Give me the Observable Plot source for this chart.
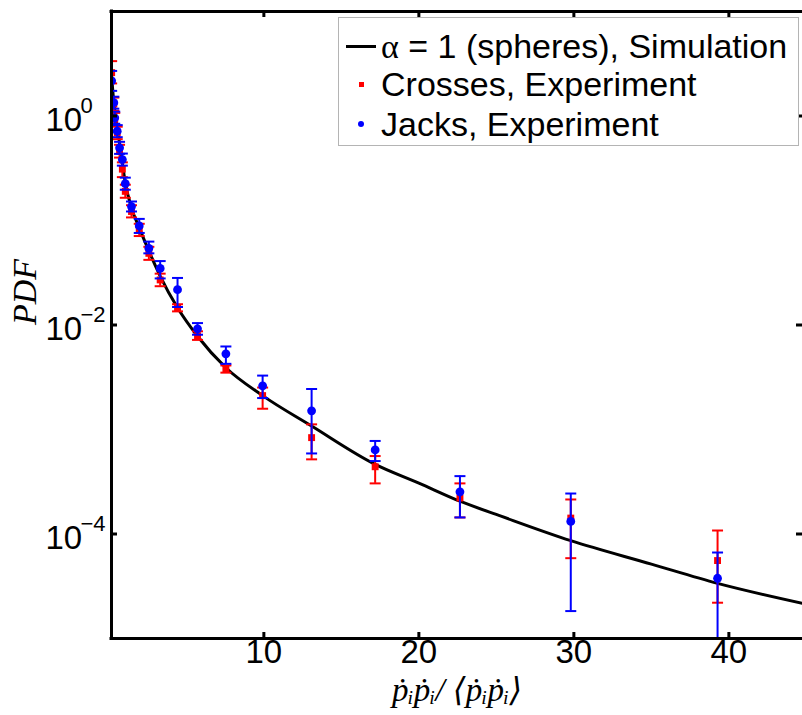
<!DOCTYPE html>
<html><head><meta charset="utf-8">
<script src="https://cdn.jsdelivr.net/npm/d3@7"></script>
<script src="https://cdn.jsdelivr.net/npm/@observablehq/plot@0.6"></script>
<style>
body{margin:0;background:#fff;}
#wrap{position:relative;width:802px;height:715px;overflow:hidden;background:#fff;}
.leg{position:absolute;left:338px;top:17px;width:461px;height:129px;border:1px solid #b4b4b4;background:#fff;box-sizing:border-box;font-family:"Liberation Sans",Arial,sans-serif;font-size:34px;color:#000;}
.row{position:absolute;left:42px;height:38px;line-height:38px;white-space:nowrap;}
.alpha{font-family:"Liberation Serif",serif;}
</style>
</head><body>
<div id="wrap"></div>
<script>
// ---- data ----
const binX   = [0.18, 0.32, 0.38, 0.54, 0.69, 0.87, 1.06, 1.46, 1.96, 2.58, 3.31, 4.43, 5.72, 7.55, 9.92, 13.08, 17.18, 22.65, 29.8, 39.27];

const jacksV  = [2.17, 1.34, 0.96, 0.716, 0.496, 0.383, 0.225, 0.136, 0.0888, 0.0542, 0.0348, 0.0218, 0.0092, 0.0053, 0.00262, 0.00151, 0.000637, 0.000253, 0.000132, 0.0000377];
const jacksHi = [2.70, 1.53, 1.10, 0.818, 0.566, 0.437, 0.257, 0.152, 0.1036, 0.0628, 0.0409, 0.0282, 0.01043, 0.00623, 0.00328, 0.00244, 0.000777, 0.000358, 0.000244, 0.0000665];
const jacksLo = [1.74, 1.175, 0.843, 0.627, 0.434, 0.335, 0.197, 0.122, 0.076, 0.0485, 0.0279, 0.01486, 0.00807, 0.00425, 0.0020, 0.00059, 0.000499, 0.000144, 0.0000183, 0.000001];

const crossV  = [2.6, 1.30, 0.93, 0.69, 0.46, 0.31, 0.19, 0.122, 0.081, 0.0485, 0.027, 0.0146, 0.0079, 0.0038, 0.00211, 0.000836, 0.00044, 0.000221, 0.000142, 0.0000557];
const crossHi = [3.35, 1.50, 1.07, 0.79, 0.53, 0.36, 0.22, 0.14, 0.093, 0.056, 0.031, 0.0158, 0.0087, 0.0041, 0.00252, 0.00112, 0.000557, 0.000305, 0.000214, 0.000108];
const crossLo = [2.05, 1.12, 0.81, 0.60, 0.40, 0.26, 0.165, 0.107, 0.071, 0.042, 0.0235, 0.0135, 0.0072, 0.0035, 0.00158, 0.000518, 0.000305, 0.000144, 0.0000587, 0.000022];

const simX = [0.17, 0.3, 0.45, 0.6, 0.8, 1.06, 1.46, 1.96, 2.58, 3.31, 4.43, 5.72, 7.55, 9.92, 13.08, 17.18, 20, 22.65, 25.3, 29.8, 35, 39.27, 44.75];
const simY = [2.5, 1.45, 0.95, 0.68, 0.42, 0.23, 0.132, 0.085, 0.0512, 0.0294, 0.0146, 0.0078, 0.0039, 0.00211, 0.00108, 0.000464, 0.000307, 0.000206, 0.000148, 0.0000863, 0.0000515, 0.0000337, 0.0000217];

const xTicks = [10, 20, 30, 40];
const yTicks = [1, 0.01, 0.0001];
const yExp   = ["0", "\u22122", "\u22124"];
const xDomain = [0.17, 44.75];
const yDomain = [1e-5, 10];
const xLabel = "p\u0307\u1D62p\u0307\u1D62/ \u27E8p\u0307\u1D62p\u0307\u1D62\u27E9";
const legendLabels = ["1 (spheres), Simulation", "Crosses, Experiment", "Jacks, Experiment"];

// ---- tables ----
const sim = simX.map((x, i) => ({x, y: simY[i]}));
const jacks = binX.map((x, i) => ({x, v: jacksV[i], lo: jacksLo[i], hi: jacksHi[i]}));
const cross = binX.map((x, i) => ({x, v: crossV[i], lo: crossLo[i], hi: crossHi[i]}));

const cap = {draw(ctx, size) { const r = Math.sqrt(size / Math.PI); ctx.moveTo(-r, 0); ctx.lineTo(r, 0); }};

function errMarks(data, color) {
  return [
    Plot.ruleX(data, {x: "x", y1: "lo", y2: "hi", stroke: color, strokeWidth: 2, clip: true}),
    Plot.dot(data, {x: "x", y: "hi", symbol: cap, r: 5.5, stroke: color, strokeWidth: 2, fill: "none", clip: true}),
    Plot.dot(data, {x: "x", y: "lo", symbol: cap, r: 5.5, stroke: color, strokeWidth: 2, fill: "none", clip: true})
  ];
}

const chart = Plot.plot({
  width: 802, height: 715,
  marginLeft: 111, marginRight: 0, marginTop: 11, marginBottom: 77,
  x: {domain: xDomain, axis: null},
  y: {type: "log", domain: yDomain, axis: null},
  style: {fontFamily: "'Liberation Sans', Arial, sans-serif", background: "white", color: "black"},
  marks: [
    Plot.line(sim, {x: "x", y: "y", stroke: "black", strokeWidth: 3, curve: "monotone-x", clip: true}),
    ...errMarks(cross, "#ff0000"),
    Plot.dot(cross, {x: "x", y: "v", symbol: "square", r: 3.9, fill: "#ff0000", clip: true}),
    ...errMarks(jacks, "#0000ff"),
    Plot.dot(jacks, {x: "x", y: "v", r: 4.4, fill: "#0000ff", clip: true}),
    // frame
    Plot.ruleY([yDomain[0]], {stroke: "black", strokeWidth: 3, strokeLinecap: "square"}),
    Plot.ruleY([yDomain[1]], {stroke: "black", strokeWidth: 3, strokeLinecap: "square"}),
    Plot.ruleX([xDomain[0]], {stroke: "black", strokeWidth: 3, strokeLinecap: "square"}),
    // inward ticks
    Plot.tickX(xTicks, {x: d => d, insetTop: 621, stroke: "black", strokeWidth: 3}),
    Plot.tickX(xTicks, {x: d => d, insetBottom: 621, stroke: "black", strokeWidth: 3}),
    Plot.tickY(yTicks, {y: d => d, insetRight: 685, stroke: "black", strokeWidth: 3}),
    Plot.tickY(yTicks, {y: d => d, insetLeft: 685, stroke: "black", strokeWidth: 3}),
    // tick labels
    Plot.text(xTicks, {x: d => d, frameAnchor: "bottom", dy: 24, text: d => String(d), fontSize: 33, fill: "black"}),
    Plot.text(yTicks, {y: d => d, frameAnchor: "left", textAnchor: "start", dx: -66, dy: 4, text: () => "10", fontSize: 33, fill: "black"}),
    Plot.text(yTicks, {y: d => d, frameAnchor: "left", textAnchor: "start", dx: -31, dy: -10, text: (d, i) => yExp[i], fontSize: 22, fill: "black"}),
    // axis titles
    Plot.text(["PDF"], {frameAnchor: "left", dx: -86, rotate: -90, text: d => d, fontSize: 34, fontStyle: "italic", fontFamily: "'Liberation Serif', serif", fill: "black"}),
    Plot.text([xLabel], {frameAnchor: "bottom", dy: 62, text: d => d, fontSize: 33, fontStyle: "italic", fontFamily: "'Liberation Serif', 'DejaVu Serif', serif", fill: "black"})
  ]
});

const wrap = document.getElementById("wrap");
wrap.appendChild(chart);

// legend inside the axes (top right)
const leg = document.createElement("div");
leg.className = "leg";
leg.innerHTML = `
  <div style="position:absolute;left:7px;top:26.5px;width:30px;height:3px;background:#000;"></div>
  <div class="row" style="top:9px;"><span class="alpha">\u03B1</span> = ${legendLabels[0]}</div>
  <div style="position:absolute;left:19.5px;top:63.5px;width:5px;height:5px;background:#ff0000;"></div>
  <div class="row" style="top:47px;">${legendLabels[1]}</div>
  <div style="position:absolute;left:19px;top:103px;width:6px;height:6px;border-radius:50%;background:#0000ff;"></div>
  <div class="row" style="top:87px;">${legendLabels[2]}</div>`;
wrap.appendChild(leg);
</script>
</body></html>
